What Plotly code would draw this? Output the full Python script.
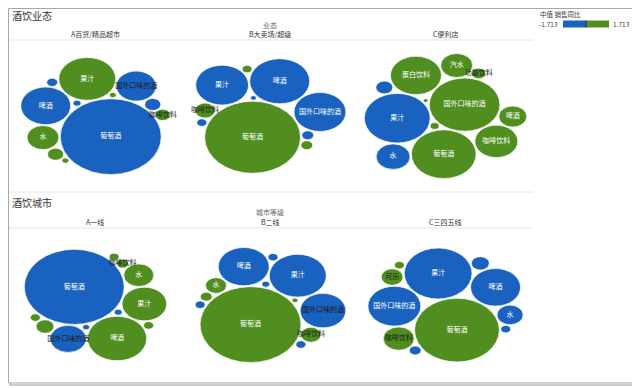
import math
import plotly.graph_objects as go

# ---------------- data ----------------
SECTION_TITLES = ["酒饮业态", "酒饮城市"]
SECTION_DIMS = ["业态", "城市等级"]
COLUMN_LABELS = [["A百货/精品超市", "B大卖场/超级", "C便利店"],
                 ["A一线", "B二线", "C三四五线"]]

A1_NAMES = ["葡萄酒", "果汁", "啤酒", "国外口味的酒", "水", "咖啡饮料", "茶饮料", "乳饮料", "白酒", "黄酒", "运动饮料", "椰汁"]
A1_SALES = [1020, 325, 250, 160, 102, 23, 26, 26, 12, 6.4, 4.9, 4.9]
A1_YOY = [-0.42, 0.38, -0.21, -0.15, 0.27, 0.12, -0.30, 0.18, -0.10, -0.05, 0.08, 0.06]

B1_NAMES = ["葡萄酒", "啤酒", "果汁", "国外口味的酒", "咖啡饮料", "茶饮料", "乳饮料", "白酒", "黄酒", "运动饮料"]
B1_SALES = [920, 360, 280, 270, 40, 14, 14, 10, 10, 3.6]
B1_YOY = [0.35, -0.25, -0.31, -0.18, 0.22, -0.12, 0.10, -0.08, 0.07, -0.04]

C1_NAMES = ["国外口味的酒", "果汁", "葡萄酒", "蛋白饮料", "咖啡饮料", "水", "汽水", "啤酒", "茶饮料", "功能饮料", "乳饮料", "白酒"]
C1_SALES = [500, 435, 420, 260, 185, 115, 102, 78, 29, 20, 8, 2.5]
C1_YOY = [0.44, -0.29, 0.31, 0.26, 0.19, -0.12, 0.15, 0.09, -0.20, 0.11, 0.06, 0.05]

A2_NAMES = ["葡萄酒", "啤酒", "果汁", "国外口味的酒", "水", "茶饮料", "咖啡饮料", "乳饮料", "白酒", "黄酒", "运动饮料", "椰汁"]
A2_SALES = [1000, 350, 200, 130, 90, 32, 14, 10, 10, 10, 6.4, 4.9]
A2_YOY = [-0.38, 0.28, 0.21, -0.16, 0.17, 0.13, 0.09, 0.07, 0.06, 0.05, -0.06, -0.04]

B2_NAMES = ["葡萄酒", "果汁", "啤酒", "国外口味的酒", "水", "咖啡饮料", "茶饮料", "乳饮料", "白酒", "黄酒", "运动饮料", "椰汁"]
B2_SALES = [1020, 325, 260, 210, 44, 40, 14, 10, 10, 10, 6.4, 3.6]
B2_YOY = [0.40, -0.27, -0.22, -0.19, 0.14, 0.20, 0.08, -0.07, -0.06, -0.05, -0.04, 0.03]

C2_NAMES = ["葡萄酒", "果汁", "国外口味的酒", "啤酒", "咖啡饮料", "水", "可乐", "茶饮料", "白酒", "乳饮料", "黄酒"]
C2_SALES = [720, 460, 280, 250, 96, 68, 48, 32, 14, 10, 10]
C2_YOY = [0.33, -0.30, -0.20, -0.24, 0.16, -0.10, 0.12, -0.09, -0.07, -0.05, 0.04]

LABELED = {"葡萄酒", "啤酒", "果汁", "水", "国外口味的酒", "咖啡饮料", "功能饮料", "蛋白饮料", "汽水", "可乐"}
YOY_RANGE = [-1.713, 1.713]
LEGEND_TITLE = "中值 销售同比"

# ---------------- style / layout ----------------
OFF = 8                 # page body margin: figure origin sits at (8, 8) of the page
FW, FH = 632, 380       # figure size
FONT = "Noto Sans CJK SC"
BLUE = "#1a62bf"
GREEN = "#4f8e1f"
KX = 1.58               # px per radius unit horizontally
ASPECT = 1.33           # ellipse stretch (x px / y px)
KY = KX / ASPECT
PAD = 0.9
PANE_X = [(8, 183), (183, 358), (358, 533)]      # page pixel coordinates
PANE_Y = [(42, 190), (230, 380)]
PANEL_ANGLES = [107, 70, 195, 302, 54, 104]
CENTROID_WEIGHT_POWER = 2.0   # weight placed circles by radius**power (area)

PANELS = [(A1_NAMES, A1_SALES, A1_YOY), (B1_NAMES, B1_SALES, B1_YOY), (C1_NAMES, C1_SALES, C1_YOY),
          (A2_NAMES, A2_SALES, A2_YOY), (B2_NAMES, B2_SALES, B2_YOY), (C2_NAMES, C2_SALES, C2_YOY)]


def color_for(v):
    return BLUE if v < 0 else GREEN


def tangent_points(p1, d1, p2, d2):
    dx, dy = p2[0] - p1[0], p2[1] - p1[1]
    D = math.hypot(dx, dy)
    if D == 0 or D > d1 + d2 or D < abs(d1 - d2):
        return []
    a = (d1 * d1 - d2 * d2 + D * D) / (2 * D)
    h = math.sqrt(max(d1 * d1 - a * a, 0.0))
    ux, uy = dx / D, dy / D
    bx, by = p1[0] + a * ux, p1[1] + a * uy
    return [(bx - h * uy, by + h * ux), (bx + h * uy, by - h * ux)]


def pack(sales, angle_deg):
    """Greedy packing: each circle (largest first) goes to the tangent spot nearest the weighted centre."""
    n = len(sales)
    r = [math.sqrt(s) for s in sales]
    rp = [x + PAD / 2 for x in r]
    order = sorted(range(n), key=lambda i: -r[i])
    pos = [None] * n
    i0 = order[0]
    pos[i0] = (0.0, 0.0)
    placed = [i0]
    if n > 1:
        i1 = order[1]
        d = rp[i0] + rp[i1]
        a = math.radians(angle_deg)
        pos[i1] = (d * math.cos(a), d * math.sin(a))
        placed.append(i1)
    for step, k in enumerate(order[2:]):
        w = [r[i] ** CENTROID_WEIGHT_POWER for i in placed]
        gx = sum(pos[i][0] * wi for i, wi in zip(placed, w)) / sum(w)
        gy = sum(pos[i][1] * wi for i, wi in zip(placed, w)) / sum(w)
        best, best_s = None, float("inf")
        for ai in range(len(placed)):
            for bi in range(ai + 1, len(placed)):
                i, j = placed[ai], placed[bi]
                for idx, p in enumerate(tangent_points(pos[i], rp[i] + rp[k], pos[j], rp[j] + rp[k])):
                    ok = all(math.hypot(p[0] - pos[m][0], p[1] - pos[m][1]) >= rp[m] + rp[k] - 1e-7
                             for m in placed)
                    if not ok:
                        continue
                    s = math.hypot(p[0] - gx, p[1] - gy)
                    if step == 0 and idx == 1:
                        s += 1e-6
                    if s < best_s:
                        best_s, best = s, p
        pos[k] = best
        placed.append(k)
    return pos, r


fig = go.Figure()
shapes = []
annotations = []


def px_x(x):
    return (x - OFF) / FW


def px_y(y):
    return 1 - (y - OFF) / FH


for p, (names, sales, yoy) in enumerate(PANELS):
    n = p + 1
    row, col = divmod(p, 3)
    pos, r = pack(sales, PANEL_ANGLES[p])
    xmin = min(pos[i][0] - r[i] for i in range(len(r)))
    xmax = max(pos[i][0] + r[i] for i in range(len(r)))
    ymin = min(pos[i][1] - r[i] for i in range(len(r)))
    ymax = max(pos[i][1] + r[i] for i in range(len(r)))
    cxm, cym = (xmin + xmax) / 2, (ymin + ymax) / 2
    (x0p, x1p), (y0p, y1p) = PANE_X[col], PANE_Y[row]
    wu = (x1p - x0p) / KX
    hu = (y1p - y0p) / KY
    xname = "x" if n == 1 else f"x{n}"
    yname = "y" if n == 1 else f"y{n}"
    fig.update_layout(**{
        ("xaxis" if n == 1 else f"xaxis{n}"): dict(domain=[px_x(x0p), px_x(x1p)], range=[cxm - wu / 2, cxm + wu / 2],
                                                   visible=False, fixedrange=True, anchor=yname),
        ("yaxis" if n == 1 else f"yaxis{n}"): dict(domain=[px_y(y1p), px_y(y0p)], range=[cym - hu / 2, cym + hu / 2],
                                                   visible=False, fixedrange=True, anchor=xname),
    })
    tx, ty, tt, tc = [], [], [], []
    for i in range(len(r)):
        cx, cy = pos[i]
        shapes.append(dict(type="circle", xref=xname, yref=yname, x0=cx - r[i], x1=cx + r[i],
                           y0=cy - r[i], y1=cy + r[i], fillcolor=color_for(yoy[i]),
                           line=dict(color="rgba(255,255,255,0.9)", width=0.8), layer="below"))
        if names[i] in LABELED:
            wpx = 2 * r[i] * KX
            tx.append(cx)
            ty.append(cy)
            tt.append(names[i])
            tc.append("#ffffff" if wpx >= len(names[i]) * 7 + 8 else "#1a1a1a")
    fig.add_trace(go.Scatter(x=tx, y=ty, text=tt, mode="text", xaxis=xname, yaxis=yname,
                             textfont=dict(family=FONT, size=7, color=tc), cliponaxis=False,
                             hoverinfo="skip", showlegend=False))

# frame with shadow (drawn first so everything else is above it)
frame = [dict(type="rect", xref="paper", yref="paper", x0=px_x(10), x1=px_x(635), y0=px_y(385), y1=px_y(10),
              line=dict(color="rgba(110,110,110,0.35)", width=2), layer="below"),
         dict(type="rect", xref="paper", yref="paper", x0=px_x(8.5), x1=px_x(633), y0=px_y(383), y1=px_y(8.5),
              line=dict(color="#a8a8a8", width=1), fillcolor="white", layer="below")]
shapes = frame + shapes

# section titles, dimension headers, column labels
SEC_TITLE_Y = [16, 202]
DIM_Y = [25, 212]
COL_Y = [34, 222]
HEADER_LINE_Y = [40, 228]
COL_X = [95, 270, 445]
for s in range(2):
    annotations.append(dict(text=SECTION_TITLES[s], x=px_x(10), y=px_y(SEC_TITLE_Y[s]), xref="paper", yref="paper",
                            xanchor="left", yanchor="middle", showarrow=False,
                            font=dict(family=FONT, size=10, color="#333333")))
    annotations.append(dict(text=SECTION_DIMS[s], x=px_x(270), y=px_y(DIM_Y[s]), xref="paper", yref="paper",
                            xanchor="center", yanchor="middle", showarrow=False,
                            font=dict(family=FONT, size=7, color="#666666")))
    for c in range(3):
        annotations.append(dict(text=COLUMN_LABELS[s][c], x=px_x(COL_X[c]), y=px_y(COL_Y[s]), xref="paper",
                                yref="paper", xanchor="center", yanchor="middle", showarrow=False,
                                font=dict(family=FONT, size=7, color="#333333")))
    shapes.append(dict(type="line", xref="paper", yref="paper", x0=px_x(9), x1=px_x(533),
                       y0=px_y(HEADER_LINE_Y[s]), y1=px_y(HEADER_LINE_Y[s]),
                       line=dict(color="#e6e6e6", width=1)))
# separator between sections
shapes.append(dict(type="line", xref="paper", yref="paper", x0=px_x(9), x1=px_x(533), y0=px_y(192), y1=px_y(192),
                   line=dict(color="#e6e6e6", width=1)))

# colour legend
annotations.append(dict(text=LEGEND_TITLE, x=px_x(538), y=px_y(14), xref="paper", yref="paper",
                        xanchor="left", yanchor="middle", showarrow=False,
                        font=dict(family=FONT, size=6.5, color="#333333")))
annotations.append(dict(text=f"{YOY_RANGE[0]:.3f}", x=px_x(560), y=px_y(24), xref="paper", yref="paper",
                        xanchor="right", yanchor="middle", showarrow=False,
                        font=dict(family=FONT, size=6.5, color="#444444")))
annotations.append(dict(text=f"{YOY_RANGE[1]:.3f}", x=px_x(611), y=px_y(24), xref="paper", yref="paper",
                        xanchor="left", yanchor="middle", showarrow=False,
                        font=dict(family=FONT, size=6.5, color="#444444")))
bar_x0, bar_x1 = 563, 609
mid = bar_x0 + (0 - YOY_RANGE[0]) / (YOY_RANGE[1] - YOY_RANGE[0]) * (bar_x1 - bar_x0)
shapes.append(dict(type="rect", xref="paper", yref="paper", x0=px_x(bar_x0), x1=px_x(mid), y0=px_y(27.5),
                   y1=px_y(20.5), fillcolor=BLUE, line=dict(width=0)))
shapes.append(dict(type="rect", xref="paper", yref="paper", x0=px_x(mid), x1=px_x(bar_x1), y0=px_y(27.5),
                   y1=px_y(20.5), fillcolor=GREEN, line=dict(width=0)))
shapes.append(dict(type="line", xref="paper", yref="paper", x0=px_x(mid), x1=px_x(mid), y0=px_y(27.5),
                   y1=px_y(20.5), line=dict(color="#1b2a3a", width=1)))

fig.update_layout(width=FW, height=FH, autosize=False, margin=dict(l=0, r=0, t=0, b=0),
                  paper_bgcolor="white", plot_bgcolor="rgba(0,0,0,0)",
                  shapes=shapes, annotations=annotations, showlegend=False,
                  font=dict(family=FONT))
fig.write_html("out.html")
